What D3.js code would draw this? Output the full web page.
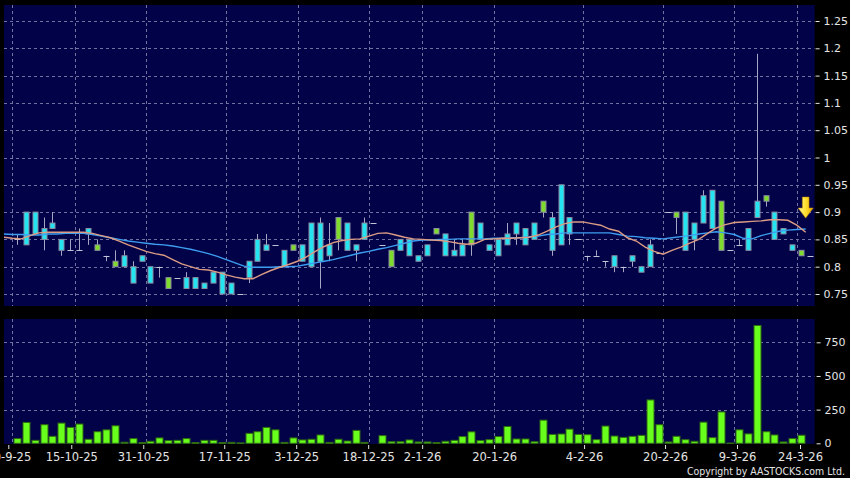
<!DOCTYPE html>
<html>
<head>
<meta charset="utf-8">
<script src="https://cdn.jsdelivr.net/npm/d3@7/dist/d3.min.js"></script>
<style>
  html, body { margin: 0; padding: 0; background: #000; }
  svg { display: block; }
</style>
</head>
<body>
<svg id="chart" width="850" height="478"></svg>
<script>
// ---------------- DATA ----------------
const opens = [0.85,0.84,0.86,0.85,0.87,0.83,0.83,0.83,0.86,0.84,
  0.82,0.81,0.80,0.77,0.81,0.77,0.80,0.78,0.78,0.76,
  0.76,0.76,0.77,0.75,0.75,0.75,0.78,0.81,0.83,0.84,
  0.80,0.84,0.81,0.80,0.81,0.82,0.89,0.83,0.83,0.85,
  0.88,0.84,0.83,0.83,0.82,0.81,0.82,0.87,0.82,0.82,
  0.82,0.90,0.85,0.83,0.82,0.84,0.86,0.84,0.85,0.92,
  0.83,0.84,0.86,0.85,0.82,0.82,0.81,0.80,0.80,0.81,
  0.79,0.80,0.825,0.90,0.90,0.83,0.85,0.88,0.87,0.92,
  0.83,0.84,0.83,0.89,0.93,0.85,0.86,0.83,0.83,0.82];
const highs = [0.86,0.90,0.90,0.89,0.90,0.85,0.85,0.87,0.87,0.85,
  0.82,0.83,0.83,0.81,0.82,0.80,0.80,0.78,0.78,0.79,
  0.78,0.77,0.79,0.79,0.77,0.75,0.81,0.86,0.86,0.84,
  0.83,0.84,0.84,0.88,0.89,0.88,0.89,0.88,0.84,0.89,
  0.88,0.84,0.83,0.85,0.85,0.82,0.84,0.87,0.86,0.85,
  0.85,0.90,0.88,0.84,0.85,0.88,0.88,0.87,0.88,0.92,
  0.90,0.95,0.89,0.85,0.82,0.83,0.81,0.82,0.80,0.82,
  0.80,0.85,0.825,0.90,0.90,0.90,0.88,0.94,0.94,0.92,
  0.83,0.85,0.87,1.19,0.93,0.90,0.87,0.84,0.83,0.82];
const lows = [0.84,0.84,0.86,0.83,0.87,0.82,0.83,0.83,0.84,0.83,
  0.81,0.80,0.80,0.77,0.81,0.77,0.78,0.76,0.78,0.76,
  0.76,0.76,0.77,0.75,0.75,0.75,0.77,0.81,0.83,0.84,
  0.80,0.83,0.81,0.80,0.76,0.81,0.83,0.83,0.81,0.85,
  0.88,0.84,0.80,0.83,0.82,0.81,0.82,0.86,0.82,0.82,
  0.82,0.82,0.85,0.83,0.82,0.84,0.84,0.84,0.85,0.89,
  0.82,0.84,0.84,0.85,0.81,0.82,0.80,0.79,0.79,0.80,
  0.79,0.80,0.825,0.90,0.86,0.83,0.83,0.88,0.87,0.83,
  0.83,0.84,0.83,0.89,0.91,0.85,0.86,0.83,0.82,0.82];
const closes = [0.85,0.90,0.90,0.87,0.88,0.85,0.83,0.83,0.87,0.83,
  0.82,0.80,0.82,0.80,0.82,0.80,0.80,0.76,0.78,0.78,
  0.78,0.77,0.79,0.79,0.77,0.75,0.81,0.85,0.84,0.84,
  0.83,0.83,0.84,0.88,0.88,0.84,0.85,0.88,0.84,0.88,
  0.88,0.84,0.80,0.85,0.85,0.82,0.84,0.86,0.86,0.83,
  0.84,0.84,0.88,0.84,0.85,0.86,0.88,0.87,0.88,0.90,
  0.89,0.95,0.89,0.85,0.82,0.82,0.81,0.82,0.80,0.82,
  0.80,0.84,0.825,0.90,0.89,0.90,0.88,0.93,0.94,0.83,
  0.83,0.84,0.87,0.92,0.92,0.90,0.87,0.84,0.82,0.82];
// volume (thousands of shares)
const volumes = [35,155,22,138,52,150,118,143,30,86,
  100,130,8,35,5,15,40,20,22,35,
  5,22,22,5,7,3,74,86,118,100,
  7,40,25,30,62,7,30,17,96,7,
  0,57,12,12,25,10,10,5,15,22,
  50,85,20,27,50,125,32,32,12,172,
  66,69,105,66,64,27,128,54,44,52,
  59,322,138,10,52,27,15,157,42,233,
  2,100,70,875,86,62,10,35,60,0];
// moving averages; first value belongs to the bar before the first visible bar
const maShort = [0.854,
  0.852,0.851,0.857,0.862,0.863,0.863,0.863,0.863,0.863,0.861,
  0.857,0.853,0.847,0.840,0.834,0.828,0.824,0.821,0.813,0.805,
  0.800,0.795,0.794,0.790,0.785,0.781,0.778,0.778,0.786,0.793,
  0.799,0.804,0.810,0.818,0.828,0.837,0.844,0.848,0.850,0.851,
  0.856,0.861,0.862,0.858,0.854,0.851,0.850,0.849,0.848,0.846,
  0.843,0.841,0.843,0.850,0.851,0.852,0.852,0.853,0.854,0.858,
  0.865,0.873,0.879,0.882,0.882,0.879,0.876,0.869,0.865,0.853,
  0.847,0.836,0.828,0.823,0.830,0.836,0.843,0.850,0.861,0.871,
  0.877,0.881,0.882,0.883,0.884,0.886,0.886,0.885,0.876,0.863];
const maLong = [0.860,
  0.859,0.859,0.858,0.858,0.860,0.860,0.861,0.861,0.861,0.859,
  0.856,0.853,0.850,0.847,0.845,0.843,0.841,0.840,0.838,0.835,
  0.832,0.828,0.824,0.819,0.813,0.807,0.801,0.799,0.799,0.799,
  0.800,0.800,0.801,0.804,0.807,0.810,0.813,0.817,0.821,0.825,
  0.828,0.832,0.835,0.839,0.843,0.847,0.849,0.849,0.850,0.850,
  0.851,0.851,0.851,0.851,0.852,0.852,0.853,0.853,0.855,0.856,
  0.859,0.860,0.862,0.862,0.862,0.862,0.862,0.862,0.859,0.856,
  0.855,0.853,0.852,0.851,0.853,0.855,0.857,0.860,0.862,0.864,
  0.862,0.859,0.852,0.851,0.857,0.861,0.865,0.867,0.868,0.869];
const dateLabels = ["30-9-25","15-10-25","31-10-25","17-11-25","3-12-25","18-12-25",
  "2-1-26","20-1-26","4-2-26","20-2-26","9-3-26","24-3-26"];
const dateLabelIndex = [0,7,15,24,32,40,46,54,64,73,81,88];
const priceTicks = [0.75,0.8,0.85,0.9,0.95,1,1.05,1.1,1.15,1.2,1.25];
const volumeTicks = [0,250,500,750];
const signalIndex = 89;   // yellow arrow marker position

// ---------------- LAYOUT ----------------
const svg = d3.select("#chart");
const W = 850, H = 478;
const P = {left: 4, right: 814.6, top: 5, bottom: 306};
const V = {left: 4, right: 814.6, top: 319, bottom: 444};

const x = d3.scaleLinear().domain([0, 90]).range([12.3, 814.6]);
const xTick = d3.scaleLinear().domain([0, 90]).range([8.3, 818]);
const y = d3.scaleLinear().domain([0.75, 1.25]).range([294, 21]);
const yv = d3.scaleLinear().domain([0, 750]).range([443.3, 342.3]);

const NAVY = "#020249";
const GRID = "#7272a0";
const TXT = "#e4e4e4";
const FONT = "'DejaVu Sans', Verdana, sans-serif";

svg.append("rect").attr("width", W).attr("height", H).attr("fill", "#000");

const defs = svg.append("defs");
defs.append("clipPath").attr("id", "clipMain").append("rect")
  .attr("x", P.left).attr("y", P.top).attr("width", P.right - P.left).attr("height", P.bottom - P.top);
defs.append("clipPath").attr("id", "clipVol").append("rect")
  .attr("x", V.left).attr("y", V.top).attr("width", V.right - V.left).attr("height", V.bottom - V.top);
const grad = defs.append("linearGradient").attr("id", "arrowGrad")
  .attr("x1", "0").attr("x2", "1").attr("y1", "0").attr("y2", "0");
grad.append("stop").attr("offset", "0").attr("stop-color", "#fff8a0");
grad.append("stop").attr("offset", "0.5").attr("stop-color", "#ffe030");
grad.append("stop").attr("offset", "1").attr("stop-color", "#e8a800");

// panels
svg.append("rect").attr("x", P.left).attr("y", P.top)
  .attr("width", P.right - P.left).attr("height", P.bottom - P.top).attr("fill", NAVY);
svg.append("rect").attr("x", V.left).attr("y", V.top)
  .attr("width", V.right - V.left).attr("height", V.bottom - V.top).attr("fill", NAVY);

// ---------------- MAIN PANEL ----------------
const gMain = svg.append("g").attr("clip-path", "url(#clipMain)");
gMain.selectAll("line.hg").data(priceTicks).enter().append("line")
  .attr("x1", P.left).attr("x2", P.right)
  .attr("y1", d => Math.round(y(d)) + 0.5).attr("y2", d => Math.round(y(d)) + 0.5)
  .attr("stroke", GRID).attr("stroke-dasharray", "3,3").attr("stroke-width", 1);
gMain.selectAll("line.vg").data(dateLabelIndex).enter().append("line")
  .attr("x1", d => Math.round(x(d)) + 0.5).attr("x2", d => Math.round(x(d)) + 0.5)
  .attr("y1", P.top).attr("y2", P.bottom)
  .attr("stroke", GRID).attr("stroke-dasharray", "3,3").attr("stroke-width", 1);

const bars = opens.map((o, i) => ({i, o, h: highs[i], l: lows[i], c: closes[i]}));
const cx = i => Math.round(x(i + 0.5));

// wicks
gMain.selectAll("line.wick").data(bars.filter(d => d.h > d.l)).enter().append("line")
  .attr("x1", d => cx(d.i) + 0.5).attr("x2", d => cx(d.i) + 0.5)
  .attr("y1", d => y(d.h)).attr("y2", d => y(d.l))
  .attr("stroke", "#a6a6c4").attr("stroke-width", 1);
// flat (open == close) marks
gMain.selectAll("line.flat").data(bars.filter(d => d.o === d.c)).enter().append("line")
  .attr("x1", d => cx(d.i) - 2.5).attr("x2", d => cx(d.i) + 3.5)
  .attr("y1", d => Math.round(y(d.o)) + 0.5).attr("y2", d => Math.round(y(d.o)) + 0.5)
  .attr("stroke", "#c4c4d8").attr("stroke-width", 1);
// bodies
gMain.selectAll("rect.body").data(bars.filter(d => d.o !== d.c)).enter().append("rect")
  .attr("x", d => cx(d.i) - 2)
  .attr("width", 5)
  .attr("y", d => y(Math.max(d.o, d.c)))
  .attr("height", d => Math.max(1, y(Math.min(d.o, d.c)) - y(Math.max(d.o, d.c))))
  .attr("fill", d => d.c > d.o ? "#24e4f2" : "#7fdc2c")
  .attr("stroke", "#8a8aa0").attr("stroke-width", 1);

// moving averages
const maLine = d3.line().x((d, k) => x(k - 1)).y(d => y(d));
gMain.append("path").datum(maLong).attr("d", maLine)
  .attr("fill", "none").attr("stroke", "#3d9ef0").attr("stroke-width", 1.4);
gMain.append("path").datum(maShort).attr("d", maLine)
  .attr("fill", "none").attr("stroke", "#dc9c84").attr("stroke-width", 1.4);

// signal arrow
const ax = x(signalIndex), aTop = y(0.9) - 15, aNeck = y(0.9) - 4, aTip = y(0.9) + 6;
gMain.append("path")
  .attr("d", `M${ax - 3.3},${aTop} L${ax + 3.3},${aTop} L${ax + 3.3},${aNeck} L${ax + 7.5},${aNeck}
              L${ax},${aTip} L${ax - 7.5},${aNeck} L${ax - 3.3},${aNeck} Z`)
  .attr("fill", "url(#arrowGrad)").attr("stroke", "#c89000").attr("stroke-width", 0.6);

// price axis
const yAxis = svg.append("g").attr("transform", `translate(${P.right + 1},0)`)
  .call(d3.axisRight(y).tickValues(priceTicks).tickSize(4).tickPadding(4)
    .tickFormat(d => String(+d.toFixed(2))));
yAxis.select(".domain").remove();
yAxis.selectAll("line").attr("stroke", TXT);
yAxis.selectAll("text").attr("fill", TXT).style("font-family", FONT).style("font-size", "11px");

// ---------------- VOLUME PANEL ----------------
const gVol = svg.append("g").attr("clip-path", "url(#clipVol)");
gVol.selectAll("line.hg").data(volumeTicks.filter(d => d > 0)).enter().append("line")
  .attr("x1", V.left).attr("x2", V.right)
  .attr("y1", d => Math.round(yv(d)) + 0.5).attr("y2", d => Math.round(yv(d)) + 0.5)
  .attr("stroke", GRID).attr("stroke-dasharray", "3,3");
gVol.selectAll("line.vg").data(dateLabelIndex).enter().append("line")
  .attr("x1", d => Math.round(x(d)) + 0.5).attr("x2", d => Math.round(x(d)) + 0.5)
  .attr("y1", V.top).attr("y2", V.bottom)
  .attr("stroke", GRID).attr("stroke-dasharray", "3,3");
gVol.selectAll("rect.vol").data(volumes.map((v, i) => ({v, i})).filter(d => d.v > 0)).enter().append("rect")
  .attr("x", d => cx(d.i) - 3).attr("width", 7)
  .attr("y", d => yv(d.v)).attr("height", d => Math.max(1, yv(0) - yv(d.v)))
  .attr("fill", "#68ff1c").attr("stroke", "#2f6a10").attr("stroke-width", 1);

const vAxis = svg.append("g").attr("transform", `translate(${V.right + 2},0)`)
  .call(d3.axisRight(yv).tickValues(volumeTicks).tickSize(4).tickPadding(4));
vAxis.select(".domain").remove();
vAxis.selectAll("line").attr("stroke", TXT);
vAxis.selectAll("text").attr("fill", TXT).style("font-family", FONT).style("font-size", "11px");

// date axis
const xAxis = svg.append("g").attr("transform", `translate(0,${V.bottom + 1})`)
  .call(d3.axisBottom(xTick).tickValues(dateLabelIndex).tickSize(4).tickPadding(4)
    .tickFormat((d, k) => dateLabels[k]));
xAxis.select(".domain").remove();
xAxis.selectAll("line").attr("stroke", TXT);
xAxis.selectAll("text").attr("fill", TXT).style("font-family", FONT).style("font-size", "11.5px");

// copyright
svg.append("text").attr("x", 845).attr("y", 474.5).attr("text-anchor", "end")
  .attr("fill", TXT).style("font-family", FONT).style("font-size", "10.5px")
  .attr("textLength", 158).attr("lengthAdjust", "spacingAndGlyphs")
  .text("Copyright by AASTOCKS.com Ltd.");
</script>
</body>
</html>
